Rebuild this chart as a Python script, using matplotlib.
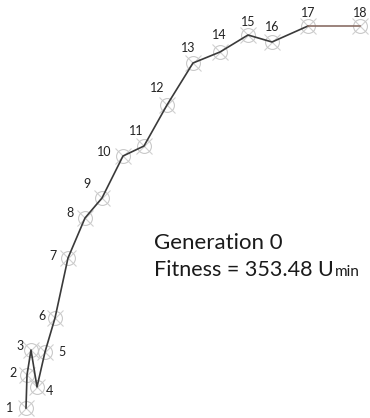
import matplotlib.pyplot as plt

# node positions of the chain (x to the right, y downward)
node_ids = list(range(1, 19))
node_x = [26, 27, 31, 37, 45, 55, 68, 85, 102, 123, 144, 167, 193, 220, 248, 272, 308, 360]
node_y = [408, 375, 350, 387, 352, 318, 258, 218, 198, 156, 146, 105, 63, 52, 35, 42, 26, 26]
# label offsets from each node
label_dx = [-16, -14, -11, 12, 17, -13, -15, -15, -15, -19, -8, -10, -5, -1, 0, 0, 0, 0]
label_dy = [0, -2, -4, 4, 0, -2, -2, -5, -14, -4, -15, -17, -15, -17, -13, -15, -13, -13]

generation = 0
fitness = 353.48

fig = plt.figure(figsize=(3.7, 4.18), dpi=100)
ax = fig.add_axes([0, 0, 1, 1])
ax.set_xlim(0, 370)
ax.set_ylim(418, 0)
ax.axis("off")

ax.plot(node_x, node_y, "x", ms=12, mew=0.8, color="#d0d0d0", zorder=1)
ax.plot(node_x, node_y, "o", ms=10, mfc="none", mew=0.8, mec="#c9c9c9", zorder=1)
ax.plot(node_x[:-1], node_y[:-1], "-", lw=1.2, color="#3a3a3a", zorder=2)
ax.plot(node_x[-2:], node_y[-2:], "-", lw=1.2, color="#8a6e66", zorder=2)

for i, x, y, dx, dy in zip(node_ids, node_x, node_y, label_dx, label_dy):
    ax.text(x + dx, y + dy, str(i), fontsize=9, color="#222222",
            ha="center", va="center", family="Lato")

ax.text(154, 243, f"Generation {generation}", fontsize=16, color="#1a1a1a",
        ha="left", va="center", family="Lato")
t = ax.text(154, 270, f"Fitness = {fitness:.2f} U", fontsize=15.5, color="#1a1a1a",
            ha="left", va="center", family="Lato")
fig.canvas.draw()
bb = t.get_window_extent()
ax.annotate("min", xy=(bb.x1, bb.y0), xycoords="figure pixels",
            xytext=(1, 3), textcoords="offset points",
            fontsize=11, color="#1a1a1a", family="Lato", ha="left", va="baseline")

fig.savefig("out.png", dpi=100)
